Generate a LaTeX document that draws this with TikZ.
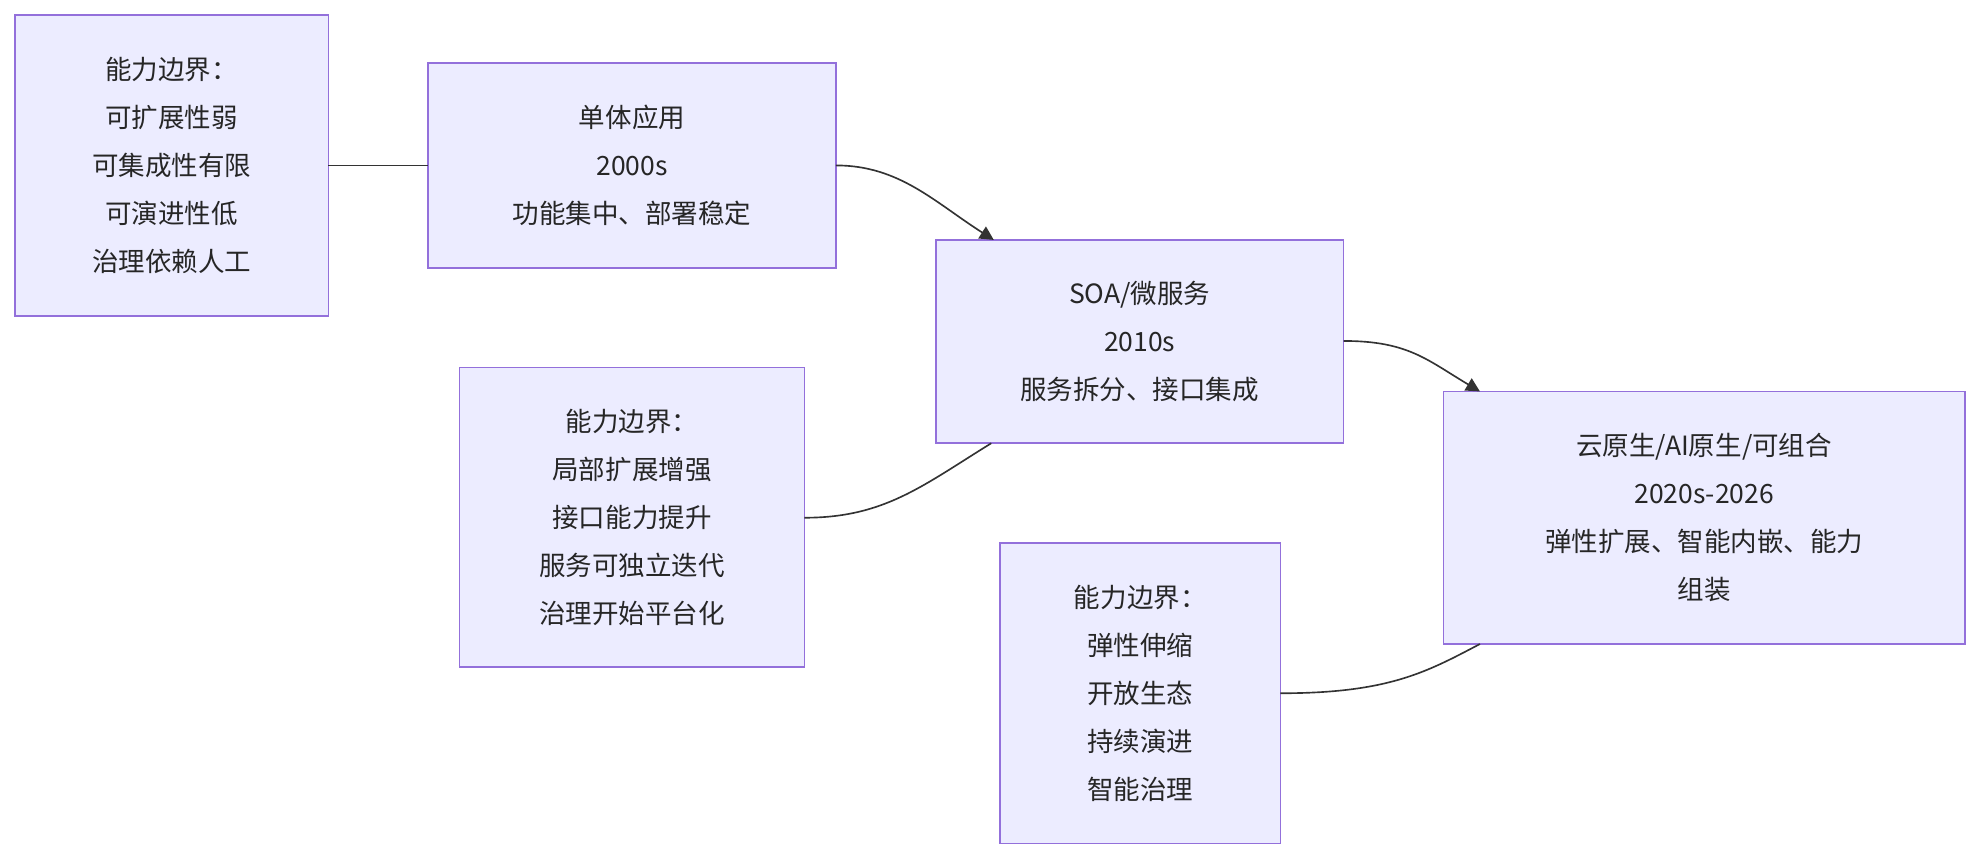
\documentclass[tikz,border=0pt]{standalone}
\usepackage{fontspec}
\setmainfont{Noto Sans CJK SC}
\usetikzlibrary{arrows.meta}
\definecolor{boxfill}{HTML}{ECECFF}
\definecolor{boxline}{HTML}{9370DB}
\definecolor{edge}{HTML}{333333}
\begin{document}
\begin{tikzpicture}[x=1pt,y=-1pt,
  box/.style={draw=boxline,fill=boxfill,line width=1.3pt},
  txt/.style={align=center,font=\fontsize{21}{38}\selectfont,text=black!85},
  link/.style={draw=edge,line width=1.3pt},
  arr/.style={link,-{Triangle[length=11pt,width=11pt]}}]
\useasboundingbox (0,0) rectangle (1568,682);
\draw[box] (12,12) rectangle (260,250); \node[txt] (a) at (136,131) {能力边界：\\可扩展性弱\\可集成性有限\\可演进性低\\治理依赖人工};
\draw[box] (339,50) rectangle (662,212); \node[txt] (b) at (500.5,131) {单体应用\\2000s\\功能集中、部署稳定};
\draw[box] (741,190) rectangle (1064,351); \node[txt] (c) at (902.5,270.5) {SOA/微服务\\2010s\\服务拆分、接口集成};
\draw[box] (364,291) rectangle (637,528); \node[txt] (d) at (500.5,409.5) {能力边界：\\局部扩展增强\\接口能力提升\\服务可独立迭代\\治理开始平台化};
\draw[box] (1143,310) rectangle (1556,510); \node[txt] (e) at (1349.5,410) {云原生/AI原生/可组合\\2020s-2026\\弹性扩展、智能内嵌、能力\\组装};
\draw[box] (792,430) rectangle (1014,668); \node[txt] (f) at (903,549) {能力边界：\\弹性伸缩\\开放生态\\持续演进\\智能治理};
\coordinate (a1) at (260,131); \coordinate (b0) at (339,131);
\coordinate (b1) at (662,131); \coordinate (c0) at (787,190);
\coordinate (c1) at (1064,270); \coordinate (e0) at (1172,310);
\coordinate (d1) at (637,410); \coordinate (c2) at (785,351);
\coordinate (f1) at (1014,549); \coordinate (e2) at (1172,510);
\draw[link] (a1) -- (b0);
\draw[arr] (b1) .. controls (712,131) and (740,160) .. (c0);
\draw[arr] (c1) .. controls (1115,270) and (1130,285) .. (e0);
\draw[link] (d1) .. controls (700,410) and (730,385) .. (c2);
\draw[link] (f1) .. controls (1100,549) and (1130,532) .. (e2);
\end{tikzpicture}
\end{document}
